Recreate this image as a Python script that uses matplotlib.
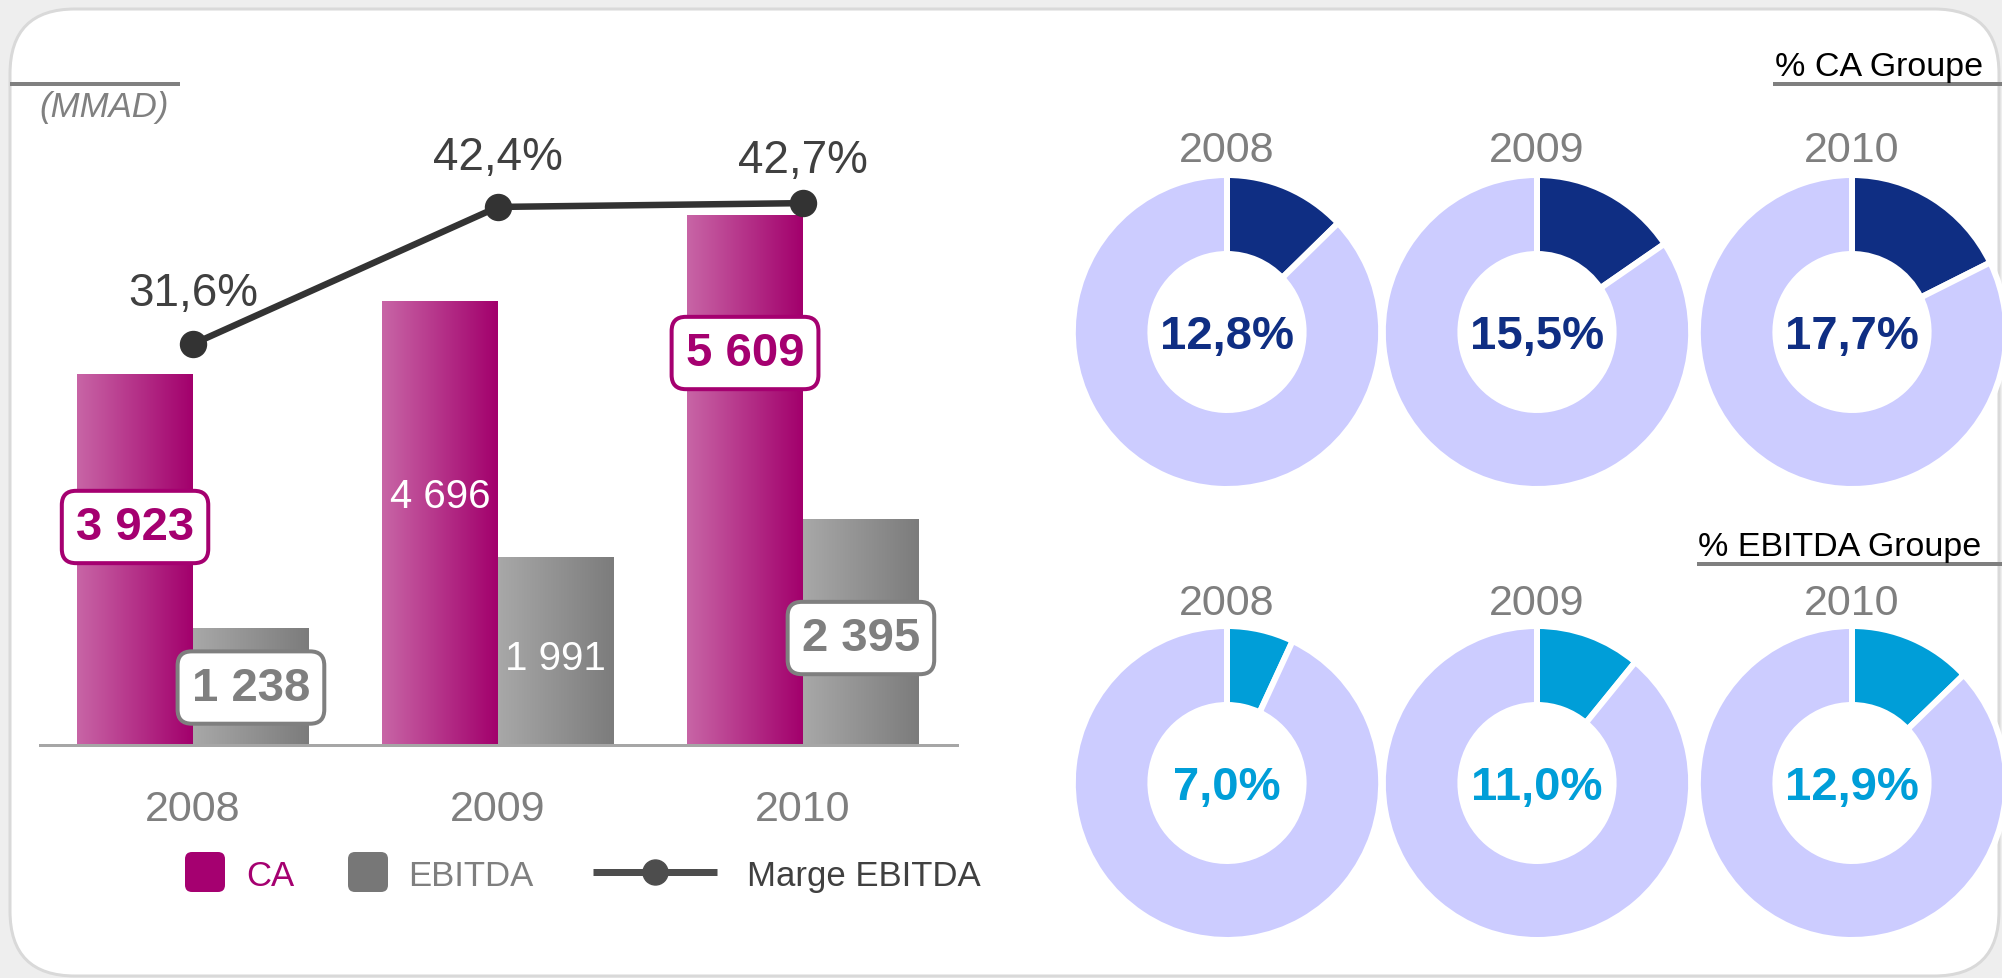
import numpy as np
import matplotlib
matplotlib.use('Agg')
import matplotlib.pyplot as plt
from matplotlib.patches import FancyBboxPatch
from matplotlib.colors import LinearSegmentedColormap

plt.rcParams['font.family'] = ['Liberation Sans', 'DejaVu Sans']

# ---------------- data ----------------
years = ['2008', '2009', '2010']
ca = [3923, 4696, 5609]
ebitda = [1238, 1991, 2395]
marge = [31.6, 42.4, 42.7]
marge_labels = ['31,6%', '42,4%', '42,7%']
ca_labels = ['3 923', '4 696', '5 609']
ebitda_labels = ['1 238', '1 991', '2 395']
part_ca = [12.8, 15.5, 17.7]
part_ca_labels = ['12,8%', '15,5%', '17,7%']
part_ebitda = [7.0, 11.0, 12.9]
part_ebitda_labels = ['7,0%', '11,0%', '12,9%']

# ---------------- style ----------------
MAG = '#A50070'
GREY = '#7F7F7F'
DARKTXT = '#404040'
NAVY = '#0F2E83'
CYAN = '#009ED8'
LAV = '#CCCCFF'

W, H, DPI = 2002, 979, 100
PX = 72.0 / DPI

fig = plt.figure(figsize=(W / DPI, H / DPI), dpi=DPI)
fig.patch.set_facecolor('#EEEEEE')

# background / annotation axes in pixel coordinates
bg = fig.add_axes([0, 0, 1, 1])
bg.set_xlim(0, W)
bg.set_ylim(H, 0)
bg.axis('off')
bg.add_patch(FancyBboxPatch((10, 10), 1989, 967,
                            boxstyle='round,pad=0,rounding_size=65',
                            fc='white', ec='#D9D9D9', lw=3 * PX))

# ---------------- bar chart ----------------
PX_PER_UNIT = 0.0945
PX_PER_PCT = 12.69
AX_H = 646
ax = fig.add_axes([40 / W, (H - 746) / H, 917 / W, AX_H / H])
ax.patch.set_alpha(0)
x = np.arange(len(years))
bw = 0.38
bars_ca = ax.bar(x - bw / 2, ca, width=bw)
bars_eb = ax.bar(x + bw / 2, ebitda, width=bw)


def grad_fill(bars, c0, c1):
    cmap = LinearSegmentedColormap.from_list('g', [c0, c1])
    grad = np.linspace(0, 1, 256).reshape(1, -1)
    for b in bars:
        x0, y0, w, h = b.get_x(), b.get_y(), b.get_width(), b.get_height()
        im = ax.imshow(grad, cmap=cmap, extent=[x0, x0 + w, y0, y0 + h],
                       aspect='auto', zorder=1, interpolation='bilinear')
        im.set_clip_path(b)
        b.set_facecolor('none')
        b.set_edgecolor('none')


grad_fill(bars_ca, '#C865A6', '#A2006C')
grad_fill(bars_eb, '#A8A8A8', '#7C7C7C')

ax.set_xlim(-0.5016, 2.505)
ax.set_ylim(0, AX_H / PX_PER_UNIT)
ax.set_aspect('auto')
for s in ['top', 'left', 'right']:
    ax.spines[s].set_visible(False)
ax.spines['bottom'].set_color('#A6A6A6')
ax.spines['bottom'].set_linewidth(3 * PX)
ax.set_xticks([])
ax.set_yticks([])

for i, yr in enumerate(years):
    ax.annotate(yr, xy=(i, 0), xytext=(0, -75 * PX), textcoords='offset points',
                ha='center', va='baseline', fontsize=31, color=GREY,
                annotation_clip=False)

# value labels (layout positions)
boxed = [True, False, True]
ca_label_y = [2307, 2635, 4148]
eb_label_y = [608, 921, 1132]
for i in range(len(years)):
    for xc, lab, ly, col in [(x[i] - bw / 2, ca_labels[i], ca_label_y[i], MAG),
                             (x[i] + bw / 2, ebitda_labels[i], eb_label_y[i], GREY)]:
        if boxed[i]:
            ax.text(xc, ly, lab, ha='center', va='center', fontsize=34,
                    fontweight='bold', color=col, zorder=6,
                    bbox=dict(boxstyle='round,pad=0.3,rounding_size=0.3',
                              fc='white', ec=col, lw=4 * PX))
        else:
            ax.text(xc, ly, lab, ha='center', va='center', fontsize=29,
                    color='white', zorder=6)

# margin line
ax2 = ax.twinx()
ax2.set_ylim(0, AX_H / PX_PER_PCT)
ax2.axis('off')
ax2.plot(x, marge, color='#333333', lw=6.5 * PX, marker='o', ms=26 * PX, zorder=5)
marge_dy = [39, 38, 31]
for i, (m, lab) in enumerate(zip(marge, marge_labels)):
    ax2.annotate(lab, xy=(x[i], m), xytext=(0, marge_dy[i] * PX),
                 textcoords='offset points', ha='center', va='baseline',
                 fontsize=33, color=DARKTXT, annotation_clip=False)

# unit label
bg.plot([10, 180], [85, 85], color='#808080', lw=4 * PX, solid_capstyle='butt')
bg.text(39, 117, '(MMAD)', fontsize=25, style='italic', color='#808080', va='baseline')

# legend
bg.add_patch(FancyBboxPatch((185, 853), 40, 40, boxstyle='round,pad=0,rounding_size=7',
                            fc=MAG, ec='none'))
bg.text(246, 886, 'CA', fontsize=25, color=MAG, va='baseline')
bg.add_patch(FancyBboxPatch((348, 853), 40, 40, boxstyle='round,pad=0,rounding_size=7',
                            fc='#777777', ec='none'))
bg.text(408, 886, 'EBITDA', fontsize=25, color=GREY, va='baseline')
bg.plot([593, 717], [873, 873], color='#4D4D4D', lw=7 * PX, solid_capstyle='butt')
bg.plot([655], [873], 'o', ms=25 * PX, color='#4D4D4D')
bg.text(747, 886, 'Marge EBITDA', fontsize=25, color=DARKTXT, va='baseline')

# ---------------- donuts ----------------
R_OUT, R_IN = 154, 81
LW_SEP = 6
X_SQUEEZE = 0.982  # donuts are slightly taller than wide
centers_x = [1227, 1537, 1852]
rows = [
    dict(cy=333, vals=part_ca, labs=part_ca_labels, col=NAVY,
         title='% CA Groupe', tx=1775, ty=76, ul_y=85, ul_x=1773, year_y=162),
    dict(cy=784, vals=part_ebitda, labs=part_ebitda_labels, col=CYAN,
         title='% EBITDA Groupe', tx=1698, ty=556, ul_y=565, ul_x=1697, year_y=615),
]
LIM = 162
for row in rows:
    bg.text(row['tx'], row['ty'], row['title'], fontsize=24.5, color='black', va='baseline')
    bg.plot([row['ul_x'], W], [row['ul_y'], row['ul_y']], color='#7F7F7F',
            lw=4 * PX, solid_capstyle='butt')
    for cx, v, lab, yr in zip(centers_x, row['vals'], row['labs'], years):
        cy = row['cy']
        wpx = 2 * LIM * X_SQUEEZE
        axd = fig.add_axes([(cx - wpx / 2) / W, (H - cy - LIM) / H, wpx / W, 2 * LIM / H])
        axd.pie([v, 100 - v], colors=[row['col'], LAV], startangle=90,
                counterclock=False, radius=R_OUT + LW_SEP / 2,
                wedgeprops=dict(width=(R_OUT - R_IN) + LW_SEP, edgecolor='white',
                                linewidth=LW_SEP * PX))
        axd.set_aspect('auto')
        axd.set_xlim(-LIM, LIM)
        axd.set_ylim(-LIM, LIM)
        axd.axis('off')
        axd.text(0, -4, lab, ha='center', va='center', fontsize=34,
                 fontweight='bold', color=row['col'])
        bg.text(cx, row['year_y'], yr, ha='center', va='baseline', fontsize=31, color=GREY)

fig.savefig('out.png', dpi=DPI, facecolor=fig.get_facecolor())
